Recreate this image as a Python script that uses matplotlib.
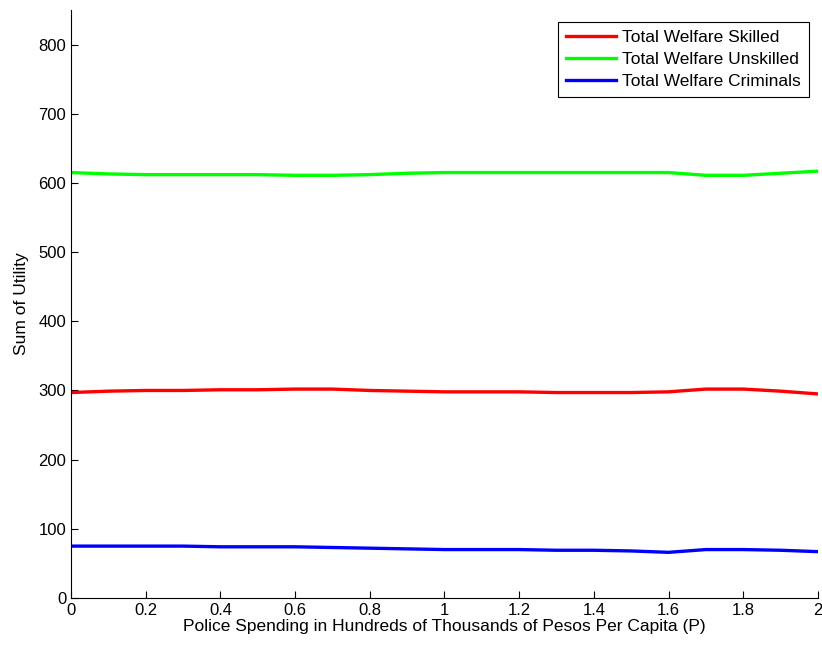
import matplotlib
matplotlib.use("Agg")
import matplotlib.pyplot as plt
import numpy as np

x = [0.0, 0.1, 0.2, 0.3, 0.4, 0.5, 0.6, 0.7, 0.8, 0.9, 1.0, 1.1, 1.2, 1.3, 1.4, 1.5, 1.6, 1.7, 1.8, 1.9, 2.0]
skilled = [297, 299, 300, 300, 301, 301, 302, 302, 300, 299, 298, 298, 298, 297, 297, 297, 298, 302, 302, 299, 295]
unskilled = [615, 613, 612, 612, 612, 612, 611, 611, 612, 614, 615, 615, 615, 615, 615, 615, 615, 611, 611, 614, 617]
criminals = [75, 75, 75, 75, 74, 74, 74, 73, 72, 71, 70, 70, 70, 69, 69, 68, 66, 70, 70, 69, 67]
labels = ["Total Welfare Skilled", "Total Welfare Unskilled", "Total Welfare Criminals"]
colors = ["#ff0000", "#00ff00", "#0000ff"]

plt.rcParams['font.family'] = ['Liberation Sans', 'DejaVu Sans']
fig = plt.figure(figsize=(8.22, 6.49), dpi=100)
ax = fig.add_axes([0.0864, 0.0786, 0.9086, 0.906])
for ys, lab, c in zip([skilled, unskilled, criminals], labels, colors):
    ax.plot(x, ys, color=c, lw=2.4, label=lab)
ax.set_xlim(0, 2)
ax.set_ylim(0, 850)
ax.set_xticks(np.arange(0, 2.01, 0.2))
ax.set_xticklabels(["0", "0.2", "0.4", "0.6", "0.8", "1", "1.2", "1.4", "1.6", "1.8", "2"])
ax.set_yticks(range(0, 801, 100))
ax.spines['top'].set_visible(False)
ax.spines['right'].set_visible(False)
ax.tick_params(direction='in', length=5, labelsize=12)
ax.set_xlabel("Police Spending in Hundreds of Thousands of Pesos Per Capita (P)", fontsize=12.5, labelpad=1)
ax.set_ylabel("Sum of Utility", fontsize=12.5, labelpad=7)
leg = ax.legend(loc='upper right', fontsize=12.5, fancybox=False, framealpha=1, edgecolor='black',
                handlelength=2.9, handletextpad=0.35, labelspacing=0.42, borderpad=0.45,
                borderaxespad=0.4, bbox_to_anchor=(0.997, 0.992))
leg.get_frame().set_linewidth(0.8)
fig.savefig("out.png", dpi=100)
